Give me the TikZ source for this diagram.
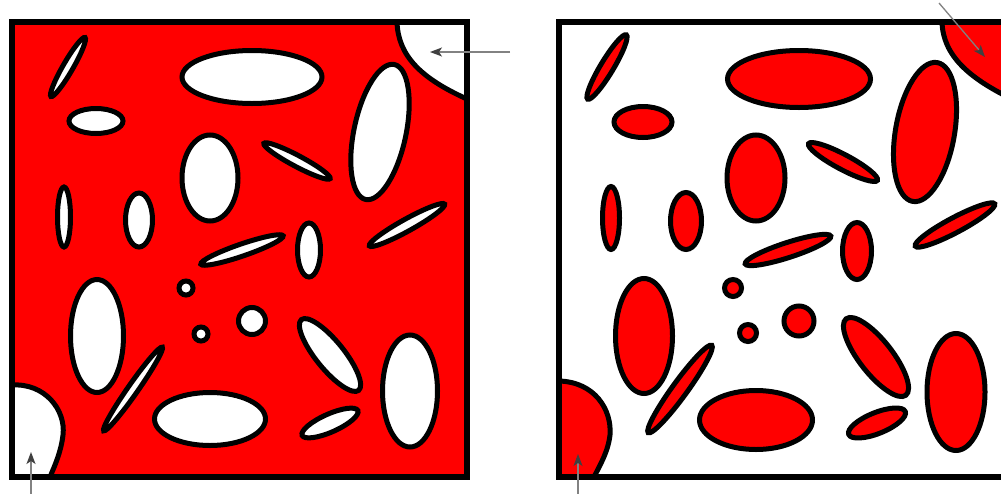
\documentclass[tikz,border=0pt]{standalone}
\usetikzlibrary{arrows.meta}
\definecolor{blobred}{RGB}{255,0,0}
\definecolor{arrgray}{RGB}{130,130,130}
\tikzset{
  outl/.style={line width=5pt},
  hole/.style={outl, draw=black, fill=white},
  blob/.style={outl, draw=black, fill=blobred},
  frame/.style={line width=6.5pt, draw=black},
  pointer/.style={draw=arrgray, line width=1.3pt, -{Stealth[length=12pt,width=9pt,inset=3pt,color=black!75]}}
}
\begin{document}
\begin{tikzpicture}[x=1pt,y=-1pt]
\useasboundingbox (0,0) rectangle (1001,493);
\clip (0,0) rectangle (1001,493);
\fill[white] (0,0) rectangle (1001,493);

% ---------------- left square ----------------
\fill[blobred] (12,22) rectangle (467,477);
\begin{scope}
\clip (12,22) rectangle (467,477);
\draw[hole] (397,10) -- (397,22) .. controls (398,55) and (420,78) .. (467,99) -- (480,105) -- (480,10) -- cycle;
\draw[hole] (0,385) -- (12,385) .. controls (45,383) and (66,410) .. (63,435) .. controls (61,452) and (55,465) .. (50,477) -- (48,490) -- (0,490) -- cycle;
\end{scope}
\draw[hole,shift={(68,67)},rotate=60] (0,0) ellipse (34 and 5);
\draw[hole] (96,121) ellipse (27 and 12.5);
\draw[hole] (252,77) ellipse (70 and 26.5);
\draw[hole] (210,178) ellipse (28 and 43);
\draw[hole] (64,217) ellipse (6.5 and 30);
\draw[hole] (139,220) ellipse (13.5 and 27);
\draw[hole,shift={(297,161)},rotate=-28] (0,0) ellipse (37.5 and 5.5);
\draw[hole,shift={(380,132)},rotate=78] (0,0) ellipse (69 and 26);
\draw[hole,shift={(407,225)},rotate=29] (0,0) ellipse (43 and 6);
\draw[hole,shift={(242,250)},rotate=19] (0,0) ellipse (43.5 and 6);
\draw[hole] (309,250) ellipse (11.5 and 27);
\draw[hole] (186,288) circle (7);
\draw[hole] (201,334) circle (7);
\draw[hole] (252,321) circle (13.5);
\draw[hole] (97,336) ellipse (26.5 and 56.5);
\draw[hole,shift={(133,389)},rotate=55] (0,0) ellipse (51 and 5);
\draw[hole] (210,419) ellipse (55.5 and 26.5);
\draw[hole,shift={(330,355)},rotate=-51] (0,0) ellipse (45.5 and 14);
\draw[hole,shift={(330,423)},rotate=24] (0,0) ellipse (30.5 and 9);
\draw[hole] (410,391) ellipse (27.5 and 56);
\draw[frame] (12,22) rectangle (467,477);

% ---------------- right square ----------------
\begin{scope}
\clip (559,22) rectangle (1014,477);
\draw[blob] (942,10) -- (942,22) .. controls (943,55) and (968,78) .. (1014,100) -- (1030,105) -- (1030,10) -- cycle;
\draw[blob] (545,381) -- (559,381) .. controls (595,382) and (612,410) .. (610,435) .. controls (608,452) and (600,465) .. (594,477) -- (592,490) -- (545,490) -- cycle;
\end{scope}
\draw[blob,shift={(607,67)},rotate=59] (0,0) ellipse (37.5 and 6.5);
\draw[blob] (643,122) ellipse (29 and 15.5);
\draw[blob] (799,79) ellipse (71.5 and 28.5);
\draw[blob] (756,178) ellipse (29 and 43);
\draw[blob] (611,218) ellipse (8.5 and 31.5);
\draw[blob] (686,221) ellipse (15.5 and 28.5);
\draw[blob,shift={(843,162)},rotate=-28] (0,0) ellipse (39 and 7.5);
\draw[blob,shift={(925,132)},rotate=80] (0,0) ellipse (70.5 and 29.5);
\draw[blob,shift={(955,225)},rotate=28] (0,0) ellipse (45 and 7.5);
\draw[blob,shift={(788,250)},rotate=18] (0,0) ellipse (45 and 7.5);
\draw[blob] (857,251) ellipse (14.5 and 28.5);
\draw[blob] (733,288) circle (8.5);
\draw[blob] (748,333) circle (8.5);
\draw[blob] (799,321) circle (15);
\draw[blob] (644,336) ellipse (28.5 and 57.5);
\draw[blob,shift={(680,389)},rotate=54] (0,0) ellipse (54 and 7.5);
\draw[blob] (756,420) ellipse (56.5 and 29.5);
\draw[blob,shift={(876,357)},rotate=-52] (0,0) ellipse (48.5 and 16.5);
\draw[blob,shift={(877,423)},rotate=22] (0,0) ellipse (30.5 and 10.5);
\draw[blob] (956,392) ellipse (29 and 58.5);
\draw[frame] (559,22) rectangle (1014,477);

% ---------------- pointers ----------------
\coordinate (a1s) at (510,52);  \coordinate (a1e) at (430,52);
\coordinate (a2s) at (31,495);  \coordinate (a2e) at (31,452);
\coordinate (a3s) at (578,495); \coordinate (a3e) at (578,454);
\coordinate (a4s) at (939,3);   \coordinate (a4e) at (985,57);
\draw[pointer] (a1s) -- (a1e);
\draw[pointer] (a2s) -- (a2e);
\draw[pointer] (a3s) -- (a3e);
\draw[pointer] (a4s) -- (a4e);
\end{tikzpicture}
\end{document}
